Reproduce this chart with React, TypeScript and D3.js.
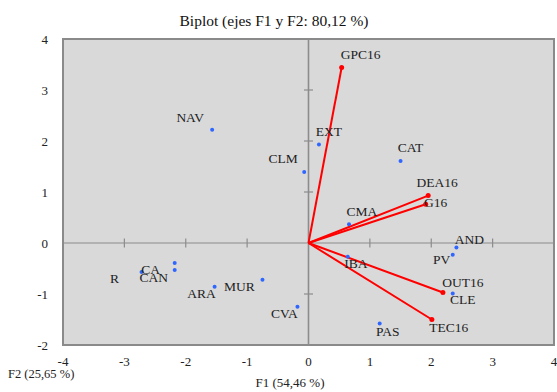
import { useRef, useEffect } from "react";
import { select, scaleLinear, range } from "d3";

const obsNames = ["NAV", "CLM", "EXT", "CAT", "CMA", "AND", "PV", "IBA", "CLE", "PAS", "CVA", "MUR", "ARA", "CA", "CAN", "R"];
const obsF1 = [-1.57, -0.07, 0.17, 1.5, 0.66, 2.41, 2.35, 0.64, 2.35, 1.16, -0.18, -0.75, -1.53, -2.18, -2.18, -2.72];
const obsF2 = [2.22, 1.39, 1.93, 1.61, 0.37, -0.09, -0.23, -0.27, -0.99, -1.58, -1.25, -0.72, -0.86, -0.39, -0.53, -0.57];

const varNames = ["GPC16", "DEA16", "G16", "OUT16", "TEC16"];
const varF1 = [0.54, 1.95, 1.91, 2.19, 2.01];
const varF2 = [3.44, 0.93, 0.76, -0.97, -1.5];

const xTicks = [-4, -3, -2, -1, 0, 1, 2, 3, 4];
const yTicks = [-2, -1, 0, 1, 2, 3, 4];

// label offsets (px) relative to the marker: [dx of text centre, dy of baseline]
const obsLabelPos: Record<string, [number, number]> = {
  NAV: [-22, -8], CLM: [-21, -9], EXT: [10, -9], CAT: [10, -9], CMA: [13, -8],
  AND: [13, -4], PV: [-11, 9], IBA: [8, 11], CLE: [10, 11], PAS: [8, 12],
  CVA: [-13, 11], MUR: [-23, 11], ARA: [-13, 11], CA: [-24, 11], CAN: [-21, 12], R: [-27, 11],
};
const varLabelPos: Record<string, [number, number]> = {
  GPC16: [19, -9], DEA16: [9, -9], G16: [10, 3], OUT16: [20, -5], TEC16: [17, 12],
};

const FONT = "'Liberation Serif', 'DejaVu Serif', serif";

function Biplot() {
  const svgRef = useRef<SVGSVGElement>(null);

  useEffect(() => {
    const svg = select(svgRef.current);
    svg.selectAll("*").remove();

    const x = scaleLinear().domain([-4, 4]).range([63, 554]);
    const y = scaleLinear().domain([-2, 4]).range([345, 39]);

    svg
      .append("rect")
      .attr("x", x(-4))
      .attr("y", y(4))
      .attr("width", x(4) - x(-4))
      .attr("height", y(-2) - y(4))
      .attr("fill", "#d9d9d9")
      .attr("stroke", "#8a8a8a")
      .attr("stroke-width", 2);

    // zero axes
    svg.append("line")
      .attr("x1", x(-4)).attr("x2", x(4)).attr("y1", y(0)).attr("y2", y(0))
      .attr("stroke", "#8c8c8c").attr("stroke-width", 1.2);
    svg.append("line")
      .attr("x1", x(0)).attr("x2", x(0)).attr("y1", y(-2)).attr("y2", y(4))
      .attr("stroke", "#8c8c8c").attr("stroke-width", 1.6);

    svg.selectAll(".xt")
      .data(xTicks.filter((d) => d !== 0 && Math.abs(d) !== 4))
      .join("line")
      .attr("x1", (d) => x(d)).attr("x2", (d) => x(d))
      .attr("y1", y(0) - 4.5).attr("y2", y(0) + 4.5)
      .attr("stroke", "#8c8c8c").attr("stroke-width", 1.2);
    svg.selectAll(".yt")
      .data(yTicks.filter((d) => d !== 0 && d !== -2 && d !== 4))
      .join("line")
      .attr("x1", x(0) - 4.5).attr("x2", x(0) + 4.5)
      .attr("y1", (d) => y(d)).attr("y2", (d) => y(d))
      .attr("stroke", "#8c8c8c").attr("stroke-width", 1.2);

    // tick labels
    svg.selectAll(".xl")
      .data(xTicks)
      .join("text")
      .attr("x", (d) => x(d))
      .attr("y", 365.5)
      .attr("text-anchor", "middle")
      .attr("font-family", FONT)
      .attr("font-size", 13)
      .attr("fill", "#222")
      .text((d) => d);
    svg.selectAll(".yl")
      .data(yTicks)
      .join("text")
      .attr("x", 48)
      .attr("y", (d) => y(d) + 4.5)
      .attr("text-anchor", "end")
      .attr("font-family", FONT)
      .attr("font-size", 13)
      .attr("fill", "#222")
      .text((d) => d);

    // variable vectors
    const vars = range(varNames.length).map((i) => ({ name: varNames[i], f1: varF1[i], f2: varF2[i] }));
    svg.selectAll(".vec")
      .data(vars)
      .join("line")
      .attr("x1", x(0)).attr("y1", y(0))
      .attr("x2", (d) => x(d.f1)).attr("y2", (d) => y(d.f2))
      .attr("stroke", "#ff0000").attr("stroke-width", 2);
    svg.selectAll(".vdot")
      .data(vars)
      .join("circle")
      .attr("cx", (d) => x(d.f1)).attr("cy", (d) => y(d.f2))
      .attr("r", 2.5).attr("fill", "#ff0000");
    svg.selectAll(".vlab")
      .data(vars)
      .join("text")
      .attr("x", (d) => x(d.f1) + varLabelPos[d.name][0])
      .attr("y", (d) => y(d.f2) + varLabelPos[d.name][1])
      .attr("text-anchor", "middle")
      .attr("font-family", FONT)
      .attr("font-size", 13.5)
      .attr("fill", "#222")
      .text((d) => d.name);

    // observations
    const obs = range(obsNames.length).map((i) => ({ name: obsNames[i], f1: obsF1[i], f2: obsF2[i] }));
    svg.selectAll(".odot")
      .data(obs)
      .join("circle")
      .attr("cx", (d) => x(d.f1)).attr("cy", (d) => y(d.f2))
      .attr("r", 2).attr("fill", "#2f66ff");
    svg.selectAll(".olab")
      .data(obs)
      .join("text")
      .attr("x", (d) => x(d.f1) + obsLabelPos[d.name][0])
      .attr("y", (d) => y(d.f2) + obsLabelPos[d.name][1])
      .attr("text-anchor", "middle")
      .attr("font-family", FONT)
      .attr("font-size", 13.5)
      .attr("fill", "#222")
      .text((d) => d.name);

    svg.append("text")
      .attr("x", 274).attr("y", 26)
      .attr("text-anchor", "middle")
      .attr("font-family", FONT).attr("font-size", 15.5).attr("fill", "#111")
      .text("Biplot (ejes F1 y F2: 80,12 %)");
    svg.append("text")
      .attr("x", 290).attr("y", 387)
      .attr("text-anchor", "middle")
      .attr("font-family", FONT).attr("font-size", 13).attr("fill", "#222")
      .text("F1 (54,46 %)");
    svg.append("text")
      .attr("x", 8).attr("y", 377.5)
      .attr("font-family", FONT).attr("font-size", 12.5).attr("fill", "#222")
      .text("F2 (25,65 %)");
  }, []);

  return <svg ref={svgRef} width={557} height={392} style={{ display: "block" }} />;
}

export default function App() {
  return (
    <div style={{ position: "absolute", left: 0, top: 0 }}>
      <Biplot />
    </div>
  );
}
